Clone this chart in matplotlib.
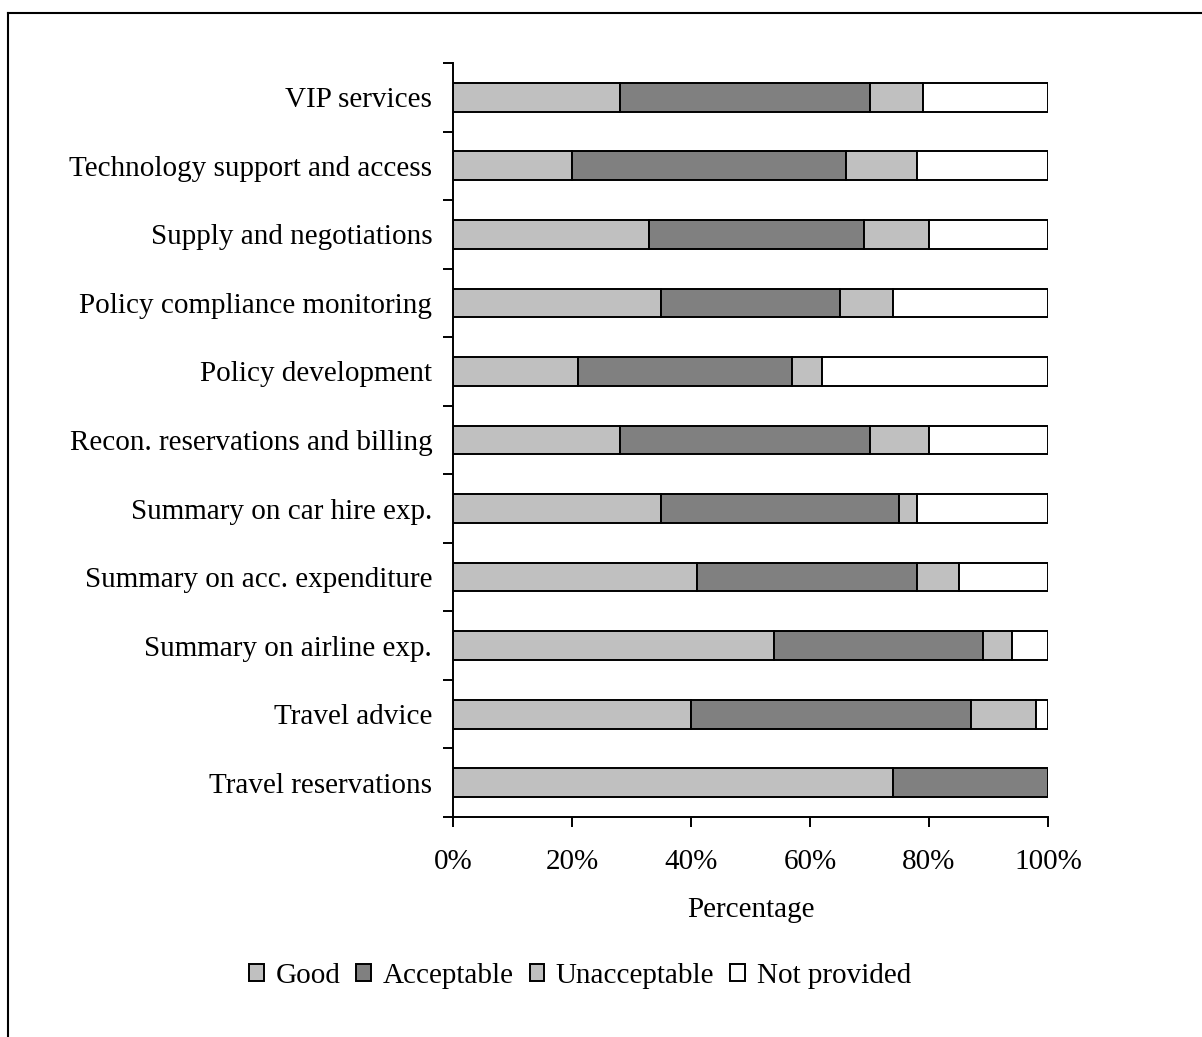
import matplotlib.pyplot as plt
from matplotlib.lines import Line2D
import numpy as np

plt.rcParams['font.family'] = ['Liberation Serif', 'DejaVu Serif']

# bottom to top
services = ["Travel reservations", "Travel advice", "Summary on airline exp.",
            "Summary on acc. expenditure", "Summary on car hire exp.",
            "Recon. reservations and billing", "Policy development",
            "Policy compliance monitoring", "Supply and negotiations",
            "Technology support and access", "VIP services"]
good = [74, 40, 54, 41, 35, 28, 21, 35, 33, 20, 28]
acceptable = [26, 47, 35, 37, 40, 42, 36, 30, 36, 46, 42]
unacceptable = [0, 11, 5, 7, 3, 10, 5, 9, 11, 12, 9]
not_provided = [0, 2, 6, 15, 22, 20, 38, 26, 20, 22, 21]

series = [("Good", good, "#c0c0c0"),
          ("Acceptable", acceptable, "#808080"),
          ("Unacceptable", unacceptable, "#c0c0c0"),
          ("Not provided", not_provided, "#ffffff")]

FS = 21

fig = plt.figure(figsize=(12.02, 10.37), dpi=100)
ax = fig.add_axes([453/1202, 1-817/1037, 595/1202, 754/1037])

y = np.arange(len(services))
left = np.zeros(len(services))
handles = []
for name, vals, col in series:
    vals = np.array(vals, dtype=float)
    b = ax.barh(y, vals, left=left, height=0.42, color=col, edgecolor="black",
                linewidth=1.4, label=name)
    handles.append(b)
    left += vals

ax.set_xlim(0, 100)
ax.set_ylim(-0.5, len(services) - 0.5)
ax.set_xticks(np.arange(0, 101, 20))
ax.set_xticklabels([f"{v}%" for v in range(0, 101, 20)], fontsize=FS)
ax.set_yticks(y)
ax.set_yticklabels(services, fontsize=FS)
ax.set_yticks(np.arange(-0.5, len(services), 1), minor=True)
ax.tick_params(axis="y", which="major", length=0, pad=15)
ax.tick_params(axis="y", which="minor", length=7, width=1.4, direction="out")
ax.tick_params(axis="x", length=7, width=1.4, direction="out", pad=16)
ax.set_xlabel("Percentage", fontsize=FS, labelpad=16)
for s in ["top", "right"]:
    ax.spines[s].set_visible(False)
for s in ["left", "bottom"]:
    ax.spines[s].set_linewidth(1.4)

fig.legend(handles=handles, loc="center", bbox_to_anchor=(580/1202, 1-976/1037),
           ncol=4, frameon=False, fontsize=FS, handlelength=0.5, handleheight=0.5,
           handletextpad=0.4, columnspacing=0.55)

# outer frame (open at bottom and right)
fig.add_artist(Line2D([8/1202, 8/1202], [0, 1-13/1037], color="black", lw=1.5,
                      transform=fig.transFigure))
fig.add_artist(Line2D([8/1202, 1], [1-13/1037, 1-13/1037], color="black", lw=1.5,
                      transform=fig.transFigure))

fig.savefig("out.png", dpi=100)
